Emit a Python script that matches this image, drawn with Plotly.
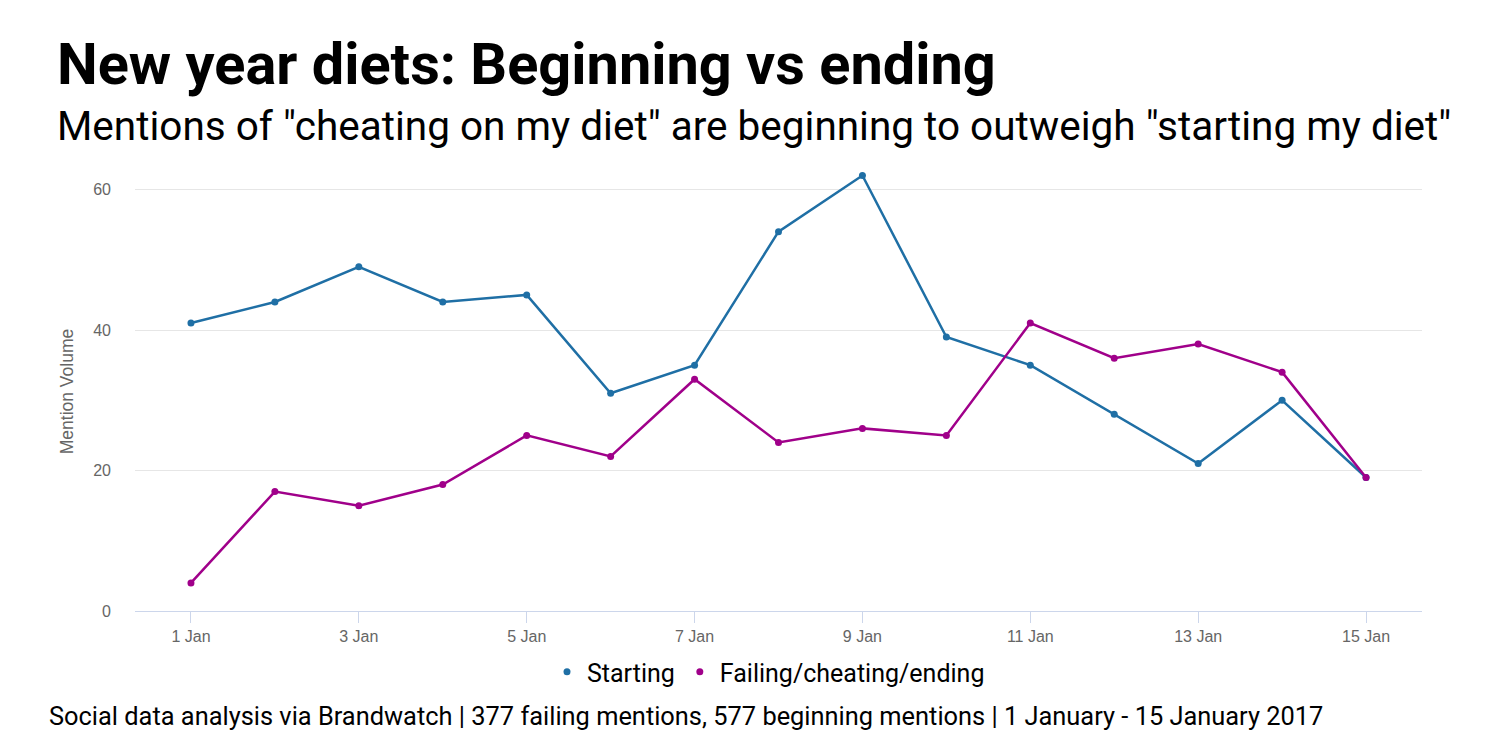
import plotly.graph_objects as go

dates = ["2017-01-%02d" % d for d in range(1, 16)]
starting = [41, 44, 49, 44, 45, 31, 35, 54, 62, 39, 35, 28, 21, 30, 19]
failing = [4, 17, 15, 18, 25, 22, 33, 24, 26, 25, 41, 36, 38, 34, 19]
tick_dates = ["2017-01-%02d" % d for d in range(1, 16, 2)]
tick_labels = ["%d Jan" % d for d in range(1, 16, 2)]

BLUE = "#1f6fa5"
MAG = "#a0008a"

W, H = 1487, 742
L, R, T, B = 127, 73, 164, 139

fig = go.Figure()
fig.add_trace(go.Scatter(x=dates, y=starting, mode="lines+markers", name="Starting",
                         line=dict(color=BLUE, width=2.5), marker=dict(size=7, color=BLUE),
                         showlegend=False))
fig.add_trace(go.Scatter(x=dates, y=failing, mode="lines+markers", name="Failing/cheating/ending",
                         line=dict(color=MAG, width=2.5), marker=dict(size=7, color=MAG),
                         showlegend=False))
fig.add_trace(go.Scatter(x=[None], y=[None], mode="markers", name="Starting",
                         marker=dict(size=7, color=BLUE)))
fig.add_trace(go.Scatter(x=[None], y=[None], mode="markers", name="Failing/cheating/ending",
                         marker=dict(size=7, color=MAG)))

pw = W - L - R
ph = H - T - B

fig.update_layout(
    width=W, height=H,
    paper_bgcolor="white", plot_bgcolor="white",
    margin=dict(l=L, r=R, t=T, b=B),
    font=dict(family="Roboto", color="#000"),
    showlegend=True,
    legend=dict(orientation="h", x=0.5 - 10 / pw, xanchor="center", y=(H - B - 664) / ph,
                yanchor="middle",
                font=dict(size=25, family="Roboto", color="#000"), itemwidth=30,
                tracegroupgap=0),
    xaxis=dict(range=["2016-12-31 08:00", "2017-01-15 16:00"],
               tickvals=tick_dates, ticktext=tick_labels,
               showgrid=False, showline=True, linecolor="#ccd6eb", linewidth=1,
               ticks="outside", ticklen=11, tickcolor="#ccd6eb",
               tickfont=dict(family="Liberation Sans", size=16, color="#666666"),
               zeroline=False),
    yaxis=dict(range=[0, 62.5], tickvals=[0, 20, 40, 60],
               showgrid=True, gridcolor="#e6e6e6", gridwidth=1,
               zeroline=False, showline=False, ticks="", ticklabelstandoff=23,
               tickfont=dict(family="Liberation Sans", size=16, color="#666666"),
               title=dict(text="Mention Volume", standoff=15,
                          font=dict(family="Liberation Sans", size=17.5, color="#666666"))),
)

fig.add_annotation(text="<b>New year diets: Beginning vs ending</b>", xref="paper", yref="paper",
                   x=47, y=56, xanchor="left", yanchor="middle", showarrow=False,
                   font=dict(family="Roboto", size=57.7, color="#000"))
fig.add_annotation(text="Mentions of \"cheating on my diet\" are beginning to outweigh \"starting my diet\"",
                   xref="paper", yref="paper", x=47, y=118, xanchor="left", yanchor="middle",
                   showarrow=False, font=dict(family="Roboto", size=40.5, color="#000"))
fig.add_annotation(text="Social data analysis via Brandwatch | 377 failing mentions, 577 beginning mentions | 1 January - 15 January 2017",
                   xref="paper", yref="paper", x=39, y=708, xanchor="left", yanchor="middle",
                   showarrow=False, font=dict(family="Roboto", size=25.4, color="#000"))

# convert pixel positions of annotations to paper coordinates
for a in fig.layout.annotations:
    a.x = (a.x - L) / pw
    a.y = (H - B - a.y) / ph

fig.write_html("out.html")
